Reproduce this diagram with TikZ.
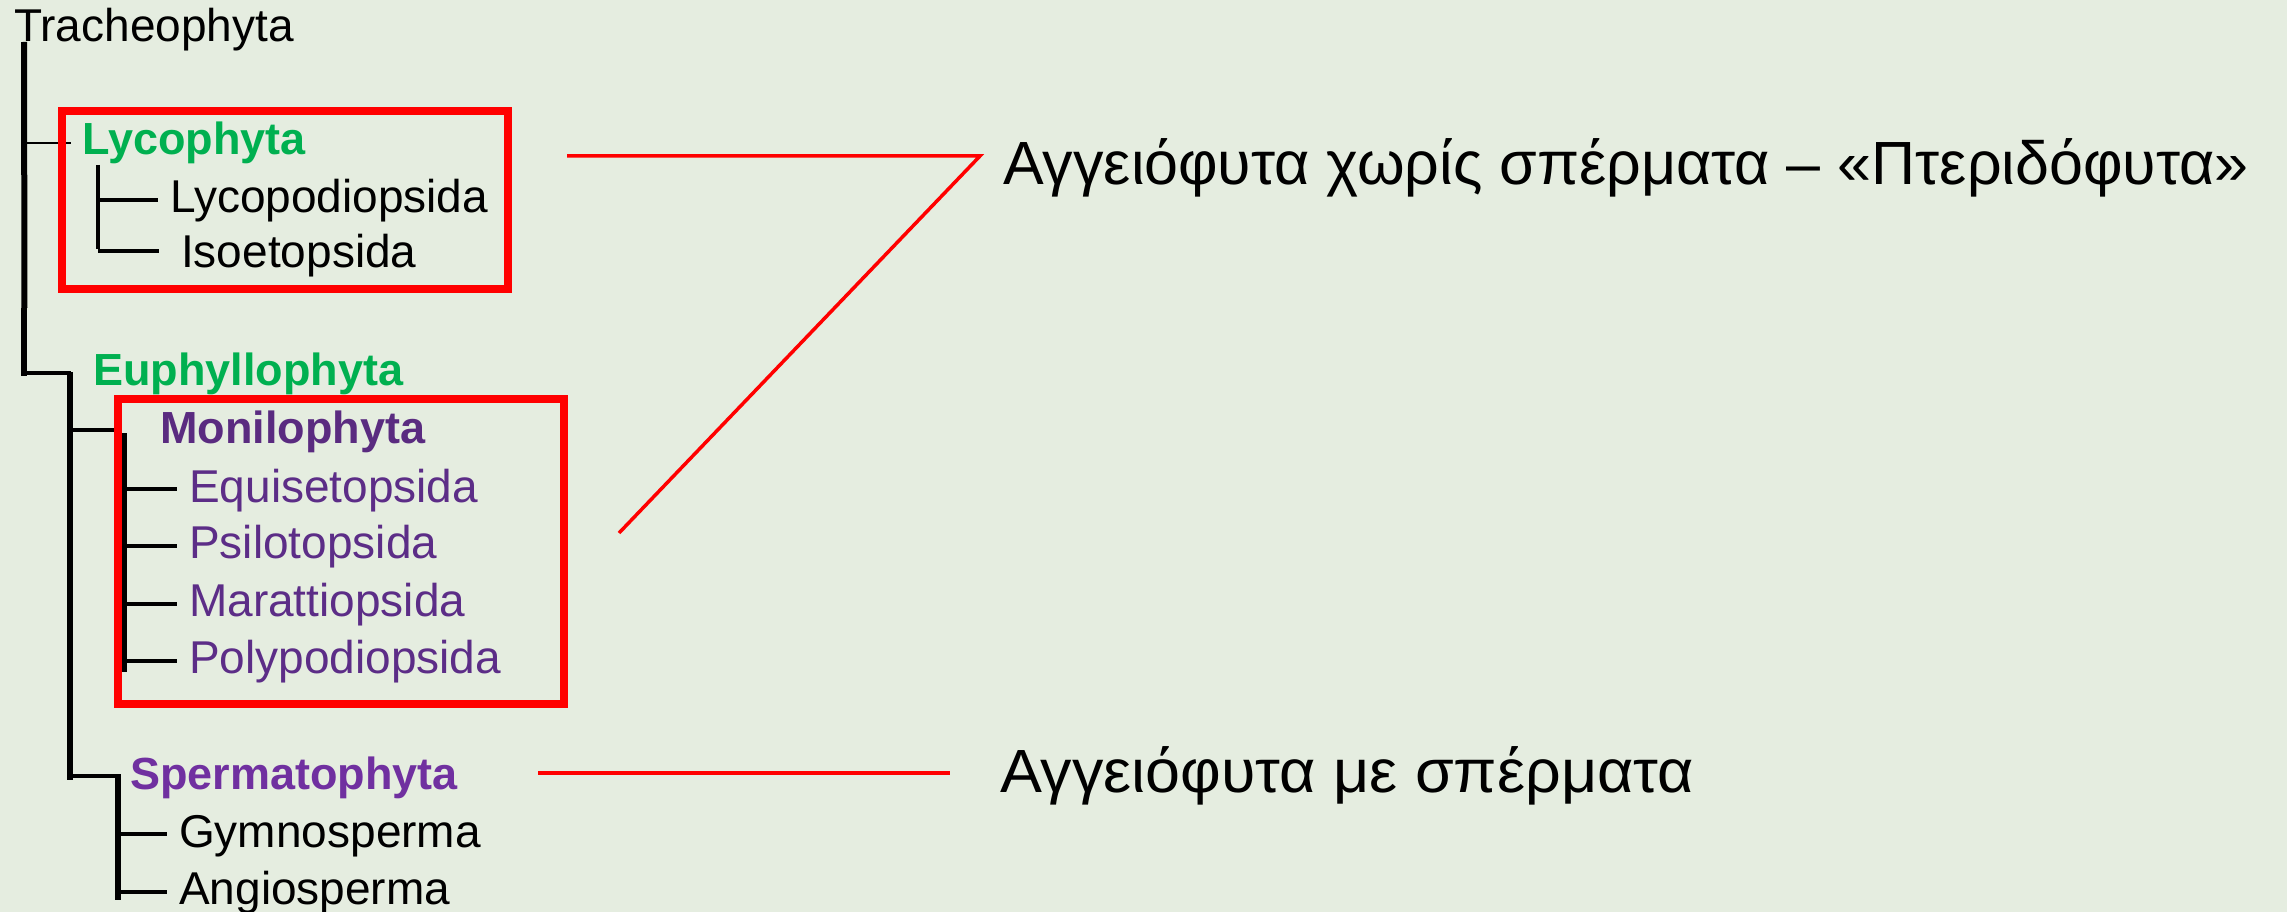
\documentclass[tikz,border=0pt]{standalone}
\usepackage{fontspec}
\setmainfont{Liberation Sans}
\definecolor{bg}{RGB}{229,237,224}
\definecolor{lgreen}{RGB}{0,176,80}
\definecolor{dpurple}{RGB}{90,43,128}
\definecolor{spurple}{RGB}{92,45,135}
\definecolor{mpurple}{RGB}{112,48,160}
\definecolor{rd}{RGB}{255,0,0}
\begin{document}
\begin{tikzpicture}[x=1pt,y=-1pt,
  reg/.style={inner sep=0pt, anchor=base west, font=\fontsize{46}{50}\selectfont},
  bld/.style={inner sep=0pt, anchor=base west, font=\fontsize{45}{50}\selectfont\bfseries},
  greek/.style={inner sep=0pt, anchor=base west, font=\fontsize{61}{66}\selectfont},
  trunk/.style={line width=6pt, black},
  twig/.style={line width=3.5pt, black},
  redbox/.style={line width=8pt, rd},
  redline/.style={line width=3.5pt, rd}]
\fill[bg] (0,0) rectangle (2287,912);
\useasboundingbox (0,0) rectangle (2287,912);

% labels
\node[reg] (trach) at (14,42) {Tracheophyta};
\node[bld, text=lgreen] (lyco) at (82,155) {Lycophyta};
\node[reg] (lycopod) at (170,213) {Lycopodiopsida};
\node[reg] (isoet) at (181,267) {Isoetopsida};
\node[bld, text=lgreen] (euph) at (93,385) {Euphyllophyta};
\node[bld, text=dpurple] (moni) at (160,443) {Monilophyta};
\node[reg, text=spurple] (equi) at (189,502) {Equisetopsida};
\node[reg, text=spurple] (psilo) at (189,558) {Psilotopsida};
\node[reg, text=spurple] (maratt) at (189,616) {Marattiopsida};
\node[reg, text=spurple] (polyp) at (189,673) {Polypodiopsida};
\node[bld, text=mpurple] (sperm) at (130,789) {Spermatophyta};
\node[reg] (gymno) at (179,847) {Gymnosperma};
\node[reg] (angio) at (179,904) {Angiosperma};
\node[greek] (g1) at (1003,185) {Αγγειόφυτα χωρίς σπέρματα – «Πτεριδόφυτα»};
\node[greek] (g2) at (1000,792) {\scalebox{1.03}[1]{Αγγειόφυτα με σπέρματα}};

% tree coordinates
\coordinate (t0) at (24,42);
\coordinate (t1) at (24.5,308);
\coordinate (t1b) at (23.5,308);
\coordinate (t2) at (23.5,376);
\coordinate (l0) at (24,143);
\coordinate (l1) at (71,143);
\coordinate (lv0) at (98,165);
\coordinate (lv1) at (98,249);
\coordinate (la) at (98,200);
\coordinate (la1) at (158,200);
\coordinate (lb) at (98,251);
\coordinate (lb1) at (159,251);
\coordinate (e0) at (21,373);
\coordinate (e1) at (71,373);
\coordinate (ev0) at (70,372);
\coordinate (ev1) at (70,780);
\coordinate (m0) at (70,430);
\coordinate (m1) at (115,430);
\coordinate (mv0) at (124.5,433);
\coordinate (mv1) at (124.5,672);
\coordinate (s0) at (67,776);
\coordinate (s1) at (121,776);
\coordinate (sv0) at (118,774);
\coordinate (sv1) at (118,900);

\draw[trunk] (t0) -- (t1);
\draw[trunk] (t1b) -- (t2);
\draw[line width=2.5pt] (l0) -- (l1);
\draw[line width=4pt] (lv0) -- (lv1);
\draw[twig] (la) -- (la1);
\draw[twig] (lb) -- (lb1);
\draw[twig] (e0) -- (e1);
\draw[trunk] (ev0) -- (ev1);
\draw[twig] (m0) -- (m1);
\draw[line width=4.5pt] (mv0) -- (mv1);
\foreach \yy in {489,546,604,661}{
  \draw[twig] (127,\yy) -- (177,\yy);
}
\draw[twig] (s0) -- (s1);
\draw[trunk] (sv0) -- (sv1);
\draw[twig] (118,834) -- (167,834);
\draw[twig] (118,892) -- (167,892);

% red boxes
\draw[redbox] (62,111) rectangle (508,289);
\draw[redbox] (118,399) rectangle (564,704);

% red connectors
\coordinate (r0) at (567,156);
\coordinate (rapex) at (980,156);
\coordinate (r1) at (619,533);
\draw[redline] (r0) -- (rapex) -- (r1);
\coordinate (q0) at (538,773);
\coordinate (q1) at (950,773);
\draw[line width=4pt, rd] (q0) -- (q1);
\end{tikzpicture}
\end{document}
